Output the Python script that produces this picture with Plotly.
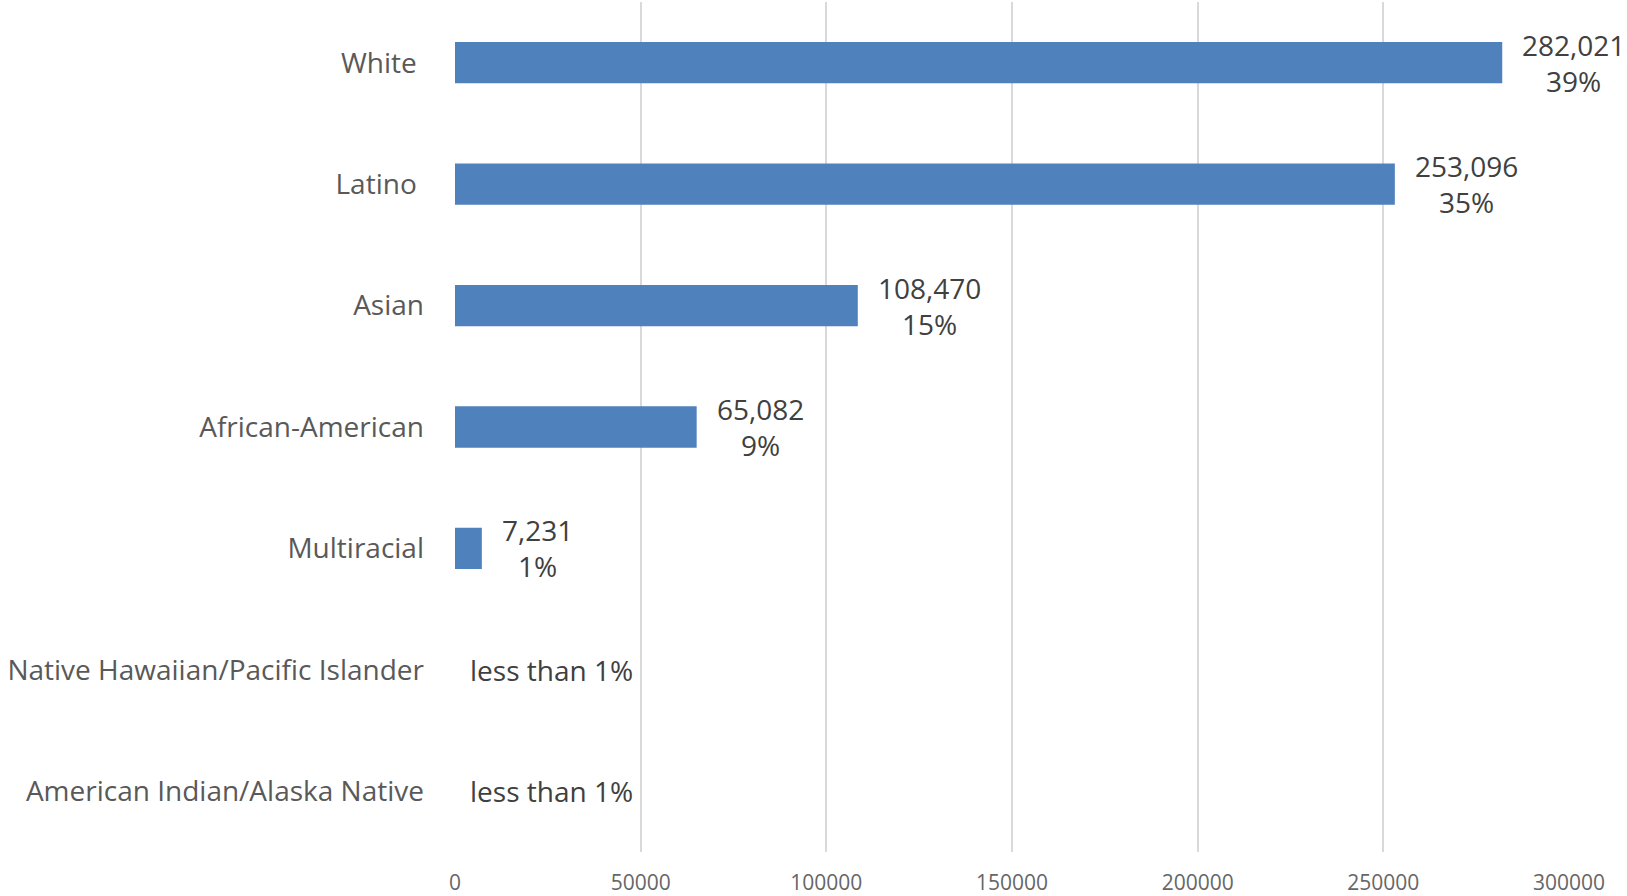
import plotly.graph_objects as go

# Enrollment by race/ethnicity
groups = ["White", "Latino", "Asian", "African-American", "Multiracial",
          "Native Hawaiian/Pacific Islander", "American Indian/Alaska Native"]
group_labels = ["White\u00a0", "Latino\u00a0", "Asian", "African-American", "Multiracial",
                "Native Hawaiian/Pacific Islander", "American Indian/Alaska Native"]
counts = [282021, 253096, 108470, 65082, 7231, 0, 0]
shares = ["39%", "35%", "15%", "9%", "1%", "less than 1%", "less than 1%"]
x_ticks = [0, 50000, 100000, 150000, 200000, 250000, 300000]

FONT = "Open Sans"
BAR_COLOR = "#4f81bd"

fig = go.Figure(go.Bar(
    x=counts, y=groups, orientation="h",
    marker=dict(color=BAR_COLOR, line=dict(width=0)),
    hoverinfo="skip",
))

annotations = []
for g, c, s in zip(groups, counts, shares):
    text = f"{c:,}<br>{s}" if c > 0 else s
    annotations.append(dict(
        x=c, y=g, xref="x", yref="y", text=text, showarrow=False,
        xanchor="left", yanchor="middle", align="center",
        xshift=18 if c > 0 else 13,
        font=dict(family=FONT, size=28, color="#404040"),
    ))

fig.update_layout(
    width=1627, height=896,
    margin=dict(l=455, r=58, t=2, b=44, autoexpand=False),
    paper_bgcolor="white", plot_bgcolor="white",
    bargap=0.66, showlegend=False,
    annotations=annotations,
    xaxis=dict(
        range=[0, 300000], tickvals=x_ticks, ticktext=[str(v) for v in x_ticks],
        showgrid=True, gridcolor="#d9d9d9", gridwidth=2, zeroline=False,
        showline=False, ticks="", ticklen=0, ticklabelstandoff=16,
        automargin=False,
        tickfont=dict(family=FONT, size=21, color="#666666"),
    ),
    yaxis=dict(
        categoryorder="array", categoryarray=groups, autorange="reversed",
        tickvals=groups, ticktext=group_labels, automargin=False,
        showgrid=False, zeroline=False, showline=False, ticks="",
        ticklabelstandoff=30,
        tickfont=dict(family=FONT, size=28, color="#595959"),
    ),
)

fig.write_html("out.html")
